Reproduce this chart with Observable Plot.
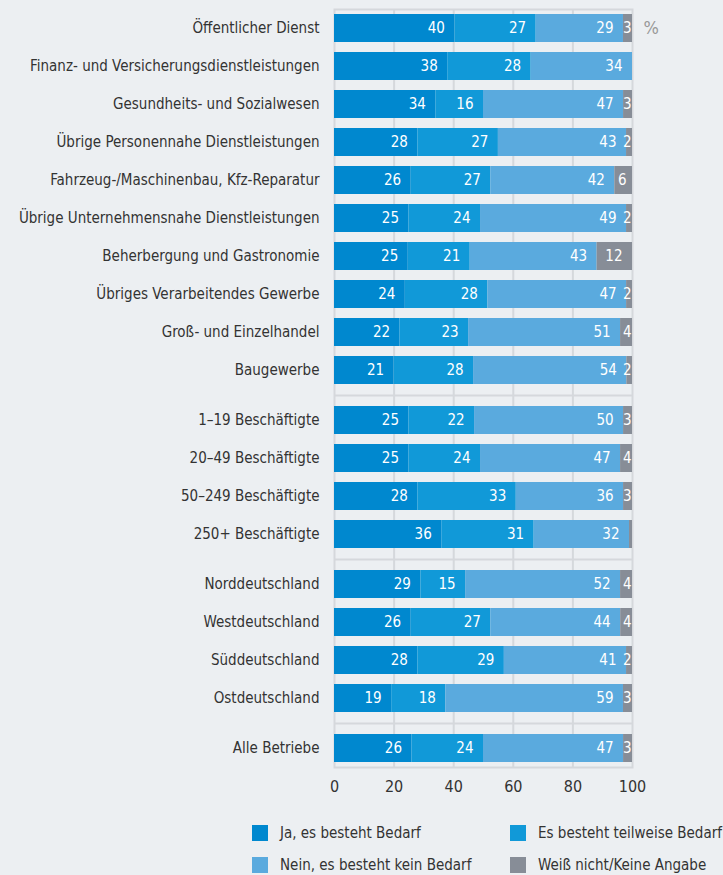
<!DOCTYPE html>
<html>
<head>
<meta charset="utf-8">
<script src="https://cdn.jsdelivr.net/npm/d3@7"></script>
<script src="https://cdn.jsdelivr.net/npm/@observablehq/plot@0.6"></script>
<style>
  html, body { margin: 0; padding: 0; background: #eceff2; }
  body { width: 723px; height: 875px; overflow: hidden; font-family: "DejaVu Sans Condensed", "Liberation Sans Narrow", "Noto Sans", sans-serif; color: #333; }
  #legend { display: grid; grid-template-columns: 258px 213px; grid-auto-rows: 32px; margin-left: 252px; margin-top: 20px; font-size: 15px; }
  .item { display: flex; align-items: center; white-space: nowrap; }
  .sw { width: 16px; height: 16px; margin-right: 12px; flex: none; }
</style>
</head>
<body>
<div id="chart"></div>
<div id="legend"></div>
<script>
const categories = [
  "Öffentlicher Dienst",
  "Finanz- und Versicherungsdienstleistungen",
  "Gesundheits- und Sozialwesen",
  "Übrige Personennahe Dienstleistungen",
  "Fahrzeug-/Maschinenbau, Kfz-Reparatur",
  "Übrige Unternehmensnahe Dienstleistungen",
  "Beherbergung und Gastronomie",
  "Übriges Verarbeitendes Gewerbe",
  "Groß- und Einzelhandel",
  "Baugewerbe",
  "1–19 Beschäftigte",
  "20–49 Beschäftigte",
  "50–249 Beschäftigte",
  "250+ Beschäftigte",
  "Norddeutschland",
  "Westdeutschland",
  "Süddeutschland",
  "Ostdeutschland",
  "Alle Betriebe"
];
const groups = [0,0,0,0,0,0,0,0,0,0, 1,1,1,1, 2,2,2,2, 3];
const seriesNames = ["Ja, es besteht Bedarf", "Es besteht teilweise Bedarf", "Nein, es besteht kein Bedarf", "Weiß nicht/Keine Angabe"];
const seriesColors = ["#0088cf", "#1199d8", "#5aaade", "#878d97"];
const ja    = [40,38,34,28,26,25,25,24,22,21, 25,25,28,36, 29,26,28,19, 26];
const teil  = [27,28,16,27,27,24,21,28,23,28, 22,24,33,31, 15,27,29,18, 24];
const nein  = [29,34,47,43,42,49,43,47,51,54, 50,47,36,32, 52,44,41,59, 47];
const weiss = [ 3, 0, 3, 2, 6, 2,12, 2, 4, 2,  3, 4, 3, 1,  4, 4, 2, 3,  3];
const xTicks = [0, 20, 40, 60, 80, 100];
const gridTicks = [20, 40, 60, 80];

const GAP = 12 / 38; // extra space between groups, in row units
const rows = categories.map((c, i) => ({label: c, group: groups[i], pos: i + groups[i] * GAP}));
const series = [ja, teil, nein, weiss];

const segments = rows.flatMap((r, i) => {
  const vals = series.map(s => s[i]);
  const total = d3.sum(vals);
  let cum = 0;
  return vals.map((v, j) => {
    const x1 = cum / total * 100;
    cum += v;
    return {label: r.label, series: seriesNames[j], value: v, x1, x2: cum / total * 100,
            y1: r.pos - 0.5, y2: r.pos + 0.5, pos: r.pos};
  });
});

const gapLines = [];
for (let i = 1; i < rows.length; i++) {
  if (rows[i].group !== rows[i - 1].group) gapLines.push((rows[i].pos + rows[i - 1].pos) / 2);
}
const labelByPos = new Map(rows.map(r => [r.pos, r.label]));
const lastPos = rows[rows.length - 1].pos;
const lineColor = "#d5d8dc";
const font = '"DejaVu Sans Condensed", "Liberation Sans Narrow", "Noto Sans", sans-serif';

const chart = Plot.plot({
  width: 723,
  height: 797,
  marginLeft: 334,
  marginRight: 91,
  marginTop: 9,
  marginBottom: 30,
  style: {background: "transparent", fontFamily: font, fontSize: "15px", color: "#333", overflow: "visible"},
  x: {domain: [0, 100]},
  y: {type: "linear", domain: [-0.5, lastPos + 0.5], reverse: true},
  color: {domain: seriesNames, range: seriesColors},
  marks: [
    Plot.gridX(gridTicks, {stroke: lineColor, strokeOpacity: 1, strokeWidth: 2}),
    Plot.ruleY(gapLines, {stroke: lineColor, strokeWidth: 2}),
    Plot.frame({stroke: lineColor, strokeWidth: 2}),
    Plot.rectX(segments, {x1: "x1", x2: "x2", y1: "y1", y2: "y2", fill: "series", insetTop: 5, insetBottom: 5}),
    Plot.text(segments.filter(d => d.value >= 10), {x: "x2", y: "pos", text: d => String(d.value), textAnchor: "end", dx: -10, fill: "white", fontSize: 15}),
    Plot.text(segments.filter(d => d.value >= 5 && d.value < 10), {x: "x2", y: "pos", text: d => String(d.value), textAnchor: "end", dx: -6, fill: "white", fontSize: 15}),
    Plot.text(segments.filter(d => d.value >= 2 && d.value < 5), {x: "x2", y: "pos", text: d => String(d.value), textAnchor: "end", dx: -1, fill: "white", fontSize: 15}),
    Plot.text(["%"], {frameAnchor: "top-right", text: d => d, textAnchor: "start", dx: 11, dy: 12, fill: "#999", fontSize: 18}),
    Plot.axisX(xTicks, {tickSize: 0, tickPadding: 13, label: null, fill: "#333", fontSize: 16}),
    Plot.axisY(rows.map(r => r.pos), {tickSize: 0, tickPadding: 15, label: null, tickFormat: d => labelByPos.get(d), fill: "#333", fontSize: 15})
  ]
});
document.getElementById("chart").appendChild(chart);

const legend = document.getElementById("legend");
[0, 1, 2, 3].forEach(j => {
  const item = document.createElement("div");
  item.className = "item";
  const sw = document.createElement("span");
  sw.className = "sw";
  sw.style.background = seriesColors[j];
  const t = document.createElement("span");
  t.textContent = seriesNames[j];
  item.appendChild(sw);
  item.appendChild(t);
  legend.appendChild(item);
});
</script>
</body>
</html>
